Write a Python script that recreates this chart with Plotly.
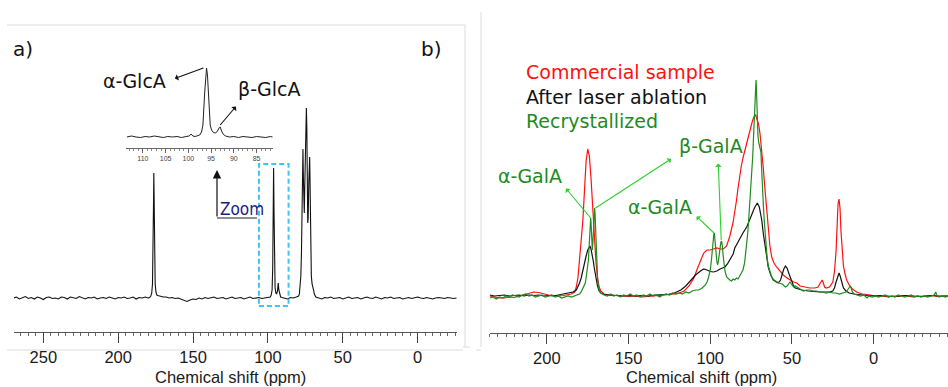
import plotly.graph_objects as go

# ---------------- Panel a : glucuronic acid, full 13C spectrum ----------------
a_ppm = [270, 268, 266, 264, 262, 260, 258, 256, 254, 252, 250, 248, 246, 244, 242, 240,
         238, 236, 234, 232, 230, 228, 226, 224, 222, 220, 218, 216, 214, 212, 210, 208,
         206, 204, 202, 200, 198, 196, 194, 192, 190, 188, 186, 184, 182, 180,
         179, 178.2, 177.6, 177.1, 176.7, 176.4, 176.2, 176.0, 175.7, 175.3, 174.8, 174.2,
         173.5, 172.5, 171.5, 170,
         168, 166, 164, 162, 160, 158, 156, 154, 152, 150, 148, 146, 144, 142, 140, 138,
         136, 134, 132, 130, 128, 126, 124, 122, 120, 118, 116, 114, 112, 110, 108, 106,
         104, 102, 100,
         98.5, 97.8, 97.2, 96.8, 96.5, 96.2, 95.9, 95.6, 95.2, 94.7, 94.2, 93.6, 93.1, 92.7,
         92.2, 91.5, 90.5, 89, 87, 85, 83, 81,
         79.5, 79, 78.5, 78, 77.6, 77.2, 76.9, 76.6, 76.3, 76.0, 75.7, 75.4, 75.0, 74.6,
         74.3, 74.0, 73.7, 73.4, 73.1, 72.7, 72.3, 72.1, 71.8, 71.4, 71.0, 70.5, 70.0, 69.5,
         69.0, 68.5, 68,
         66, 64, 62, 60, 58, 56, 54, 52, 50, 48, 46, 44, 42, 40, 38, 36, 34, 32, 30, 28, 26,
         24, 22, 20, 18, 16, 14, 12, 10, 8, 6, 4, 2, 0, -2, -4, -6, -8, -10, -12, -14, -16,
         -18, -20, -22, -24, -26]
a_int = [0, 1, -1, 0, 1.5, -0.5, 0.5, -1, 1, 0, -1.5, 0.5, 1, -0.5, 0, -1,
         1, 0.5, -1, 1, 0, -0.5, 1.5, 0, -1, 0.5, 0, 1, -1, 0, 0.5, -0.5,
         1, 0, -1, 0.5, 0, 1, -0.5, 0, 1, -1, 0.5, 0, 1, 0,
         0.5, 2, 5, 14, 45, 95, 125, 95, 45, 14, 6, 3,
         2.5, 2, 1.5, 1,
         1, 0, 0.5, -0.5, 0, -1, -2, -3.5, -2, -1, -1.5, 0, -1, 0.5, -0.5, 0,
         1, -0.5, 0, 0.5, -1, 0, 1, -0.5, 0, 0.5, -1, 0, 1, -0.5, 0, 0.5,
         -0.5, 0, 0.5,
         1, 3, 8, 30, 85, 130, 85, 30, 10, 5, 4, 7, 15, 8,
         3, 1, 0.5, 0, -1, 0.5, 0, 1,
         2, 4, 10, 22, 45, 85, 125, 149, 120, 92, 85, 110, 150, 180,
         190, 170, 110, 75, 80, 115, 138, 141, 110, 55, 22, 14, 12, 8,
         4, 2, 1,
         0, -1, 0.5, 0, 1, -0.5, 0, 0.5, -1, 0, 1, -0.5, 0, 0.5, -1, 0, 1, 0, -0.5, 1, 0,
         -1, 0.5, 0, 1, -0.5, 0, 0.5, -1, 0, 0.5, -0.5, 0, 1, 0, -0.5, 0.5, 0, -1, 0, 0.5, 0,
         -0.5, 0.5, 0, -0.5, 0]

# inset: expanded anomeric region
inset_ppm = [113.5, 112.5, 111.5, 110.5, 109.5, 108.5, 107.5, 106.5, 105.5, 104.5, 103.5,
             102.5, 101.5, 100.5, 99.8, 99.4, 99.0, 98.5, 98.0, 97.5, 97.1, 96.8, 96.4,
             96.2, 96.0, 95.8, 95.6, 95.4, 95.2, 94.9, 94.5, 94.0, 93.6, 93.2, 93.0, 92.7,
             92.3, 91.8, 91, 90, 89, 88, 87, 86, 85, 84, 83, 82, 81.5]
inset_int = [0, 1, 0, -0.5, 0.5, 0, 1, 0, -0.5, 0.5, 0,
             0.5, -0.5, 0.5, 1, 3, 1, 0.5, 1, 2, 5, 12, 45,
             64, 69, 62, 42, 22, 12, 7, 4.5, 4, 6, 9.5, 10, 6,
             2.5, 1, 0, 0.5, -0.5, 0.5, 0, -0.5, 0.5, 0, -0.5, 0.5, 0]

# ---------------- Panel b : galacturonic acid spectra ----------------
red_ppm = [235, 232, 229, 226, 223, 220, 217, 214, 211, 208, 205, 202, 199, 196, 193, 190,
           187, 185, 183, 182, 181, 180, 179, 178, 177, 176, 175, 174, 173, 172, 171, 170,
           169, 168, 167, 165, 162, 158, 154, 150, 146, 142, 138, 134, 130, 126, 122, 119,
           116, 113, 110, 108, 106, 104, 102, 100, 98, 96, 94, 92, 90, 88, 86, 85, 84, 83,
           82, 81, 80, 79, 78, 77, 76, 75, 74, 73, 72.2, 71.5, 70.5, 69.6, 68.6, 67.6, 66.8,
           65.9, 65.2, 64.5, 63.5, 62.4, 61, 59.4, 57.3, 55.3, 53, 51.2, 49, 47, 45, 42, 39,
           36, 34, 33, 32, 31.5, 31, 30, 29, 27, 25, 24, 23, 22.3, 21.8, 21.2, 20.6, 20,
           19.4, 18.5, 17.5, 16.5, 15, 13, 10.4, 7, 4, 2, 0, -3, -6, -9, -12, -15, -18, -21,
           -24, -27, -30, -33, -36, -39, -42, -45.5]
red_int = [0, -1, -2, -2, -1, -1.5, 0, 1, 3, 4, 3.5, 2, 1, 0.5, 0, 0.5,
           1, 2, 4, 9, 18, 35, 55, 75, 105, 135, 147, 140, 118, 90, 60, 35,
           18, 9, 5, 2, 1, 0.5, 0, -0.5, 0, -1, -0.5, 0, 0.5, 1, 2, 3,
           5, 10, 18, 27, 36, 43, 46, 46, 47, 48, 47, 47, 50, 60, 74, 83, 95, 108,
           120, 130, 138, 145, 150, 156, 163, 170, 176, 180, 181, 178, 172, 163, 148, 129, 112,
           96, 78, 63, 50, 39, 33, 29, 25, 21, 18, 16, 14, 13, 10, 9, 8,
           8, 9, 12, 15, 16, 14, 9, 8, 9, 14, 24, 45, 75, 92, 97, 88, 65,
           45, 30, 22, 16, 11, 7, 4, 2, 1.5, 1, 0, -0.5, 0, -1, 0, -0.5, 0.5, 0,
           -1, 0, -0.5, 0, 0.5, -0.5, 0, 0]

blk_ppm = [235, 232, 229, 226, 223, 220, 217, 214, 211, 208, 205, 202, 199, 196, 193, 190,
           188, 186, 184, 182, 181, 180, 179, 178, 177, 176, 175, 174.2, 173.6, 173, 172,
           171.5, 171, 170, 169, 168, 167, 165, 162, 158, 154, 150, 146, 142, 138, 134, 130,
           126, 122, 118, 115, 112, 109, 106, 104, 102, 100, 98, 96, 94, 92, 91, 89.5, 88,
           86, 85, 83, 81.8, 80, 77.7, 76, 74.7, 73, 71.2, 70, 69, 68.5, 67.5, 66.5, 65.5,
           64.5, 63, 61.4, 59.5, 58.4, 57, 56, 55, 54, 53, 52, 51.2, 50, 49, 48, 46, 44, 40,
           36, 33, 30, 27, 25, 24, 23, 22, 21.2, 20.5, 19.5, 18.5, 17, 15, 12, 8, 4, 0, -4,
           -8, -12, -16, -20, -24, -28, -32, -36, -40, -45.5]
blk_int = [1, 0, 0.5, 1, 0, 0.5, 1, 0, 1, 0.5, 1, 0, 0.5, 0, 1, 1.5,
           2, 3, 4, 6, 9, 13, 18, 26, 33, 40, 46, 49, 50, 47, 40,
           34, 28, 18, 10, 5, 3, 1.5, 1, 0.5, 0, 0.5, 0, 0.5, 0, 1, 1,
           1.5, 3, 6, 10, 16, 21, 25, 27, 26, 24.5, 24, 25, 27, 28, 29, 32, 36,
           42, 48, 54, 59, 63, 69, 75, 81, 88, 93, 89, 82, 76, 62, 49, 37,
           29, 21, 16, 14, 13, 16, 22, 27, 30, 28, 23, 19, 14, 10, 8, 7, 6, 5,
           4, 4, 4, 4, 5, 8, 14, 20, 23, 20, 13, 8, 5, 3, 2, 1, 0.5, 0, 0.5,
           0, -0.5, 0, 0.5, 0, -0.5, 0, 0.5, 0, 0]

grn_ppm = [235, 233, 231, 229, 227, 225, 223, 221, 219, 217, 215, 213, 211, 209, 207, 205,
           203, 201, 199, 197, 195, 193, 191, 189, 187, 185, 183, 181, 180, 179, 178, 177,
           176.5, 176, 175.5, 175, 174.6, 174.2, 173.8, 173.4, 173.2, 173, 172.6, 172.2,
           171.8, 171.4, 171, 170.8, 170.5, 170.2, 169.8, 169.4, 169, 168.4, 167.8, 167,
           166, 165, 163, 161, 159, 157, 155, 153, 151, 149, 147, 145, 143, 141, 139, 137,
           135, 133, 131, 129, 127, 125, 123, 121, 119, 117, 115, 113, 111, 109, 107, 105,
           103, 102, 101, 100, 99.3, 98.8, 98.2, 97.8, 97.5, 97.1, 96.6, 96, 95.5, 95, 94.5,
           94, 93.5, 93.1, 92.6, 92.1, 91.6, 91, 90, 89, 88, 87, 86, 85, 84, 83, 82, 81, 80,
           79, 78.5, 78, 77.5, 77, 76.5, 76, 75.5, 75, 74.5, 74, 73.5, 73, 72.6, 72.2, 72,
           71.8, 71.5, 71.2, 70.8, 70.4, 70, 69.5, 69, 68.6, 68.2, 67.8, 67.3, 66.8, 66.3,
           65.8, 65.2, 64.5, 63.5, 62.4, 61, 59.4, 58, 56, 55, 54, 53, 52, 51.2, 50, 49, 48,
           47, 45, 43, 41, 39, 37, 35, 33, 31, 29, 27, 25, 23, 21, 19, 17, 16, 15, 14.3,
           13.8, 13, 12, 10, 8, 6, 5, 4, 3, 1, -1, -3, -5, -7, -9, -11, -13, -15, -17, -19,
           -21, -23, -25, -27, -29, -31, -33, -35, -37, -38, -38.5, -40, -42, -44, -45.5]
grn_int = [-2, -1, -3, -1, -2, 0, -1, 1, 0, -1, 1, 2, 0, 1, -1, 0,
           1, -1, 0, 1, -1, 0, -2, -1, 0, -1, 0, 1, 2, 4, 7, 10,
           13, 18, 24, 30, 36, 48, 62, 75, 78, 74, 58, 46,
           55, 75, 86, 88, 82, 66, 45, 30, 18, 9, 5, 3,
           2, 1, 0, 2, 0, 1, -1, 1, 0, 2, 0, 1, -1, 1, 0, 2,
           0, 1, -1, 1, 2, 1, 3, 2, 3, 2, 4, 3, 5, 6, 6, 8,
           11, 14, 19, 26, 36, 46, 56, 62, 63, 58, 46, 35, 31, 35, 43,
           50, 54, 55, 50, 40, 33, 25, 19, 17, 16, 15, 17, 16, 18, 17, 20, 22, 26,
           33, 40, 48, 56, 64, 76, 88, 100, 110, 125, 140, 160, 180, 200, 214, 216,
           210, 190, 172, 160, 154, 151, 148, 144, 128, 110, 98, 84, 72, 58,
           47, 38, 30, 24, 19, 16, 14, 13, 12, 10, 9, 10, 13, 14, 11, 9, 10,
           9, 7, 5, 6, 6, 5, 5, 4, 4, 3, 4, 3, 3, 2, 3, 4, 6, 8, 10,
           8, 4, 2, 1, 0, 1, -1, -2, 0, -1, 0, -1, 0, 1, -1, 0, -1, 1, 0, -1,
           0, 1, -1, 0, -1, 0, -1, 0, 1, 4, 1, -1, 0, -1, 0]

a_ticks = [250, 200, 150, 100, 50, 0]
b_ticks = [200, 150, 100, 50, 0]
inset_ticks = [110, 105, 100, 95, 90, 85]

W, H = 948, 387
SANS = "Liberation Sans, Arial, sans-serif"
TICK_FONT = dict(family=SANS, size=16.5, color="#1a1a1a")
LABEL_FONT = "DejaVu Sans, Verdana, sans-serif"
GREEN_TXT = "#1f8a1f"
ARROW_GREEN = "#2ad12a"


def px(x, y):
    """pixel position -> paper coordinates"""
    return x / W, 1 - y / H


fig = go.Figure()
fig.add_trace(go.Scatter(x=a_ppm, y=a_int, mode="lines", line=dict(color="#111111", width=1.1),
                         xaxis="x", yaxis="y", hoverinfo="skip"))
fig.add_trace(go.Scatter(x=inset_ppm, y=inset_int, mode="lines", line=dict(color="#222222", width=1),
                         xaxis="x3", yaxis="y3", hoverinfo="skip"))
fig.add_trace(go.Scatter(x=red_ppm, y=red_int, mode="lines", line=dict(color="#ff1010", width=1.2),
                         xaxis="x2", yaxis="y2", hoverinfo="skip"))
fig.add_trace(go.Scatter(x=blk_ppm, y=blk_int, mode="lines", line=dict(color="#111111", width=1.2),
                         xaxis="x2", yaxis="y2", hoverinfo="skip"))
fig.add_trace(go.Scatter(x=grn_ppm, y=grn_int, mode="lines", line=dict(color="#1e8c1e", width=1.2),
                         xaxis="x2", yaxis="y2", hoverinfo="skip"))


def ppm_axis(domain, rng, ticks, anchor):
    return dict(domain=domain, range=rng, anchor=anchor, showgrid=False, zeroline=False,
                showline=True, linecolor="#555555", linewidth=1,
                tickmode="array", tickvals=ticks, ticks="outside", ticklen=10,
                tickwidth=1.3, tickcolor="#444444", tickfont=TICK_FONT,
                minor=dict(tickmode="linear", tick0=0, dtick=5, ticks="outside",
                           ticklen=3, tickwidth=1, tickcolor="#666666", showgrid=False))


fig.update_layout(
    width=W, height=H, margin=dict(l=0, r=0, t=0, b=0),
    paper_bgcolor="white", plot_bgcolor="white", showlegend=False,
    xaxis=ppm_axis([14 / W, 457 / W], [269.6, -26.3], a_ticks, "y"),
    yaxis=dict(domain=[1 - 332 / H, 1], range=[-34, 298], visible=False),
    xaxis2=ppm_axis([489.7 / W, 1], [235, -45.5], b_ticks, "y2"),
    yaxis2=dict(domain=[1 - 333 / H, 1], range=[-37, 296], visible=False),
    xaxis3=dict(domain=[126 / W, 273 / W], range=[113.7, 81.4], anchor="y3",
                showgrid=False, zeroline=False, showline=True, linecolor="#666666",
                linewidth=1, tickmode="array", tickvals=inset_ticks, ticks="outside",
                ticklen=4, tickwidth=1, tickcolor="#666666",
                tickfont=dict(family=SANS, size=7, color="#444444"),
                minor=dict(tickmode="linear", tick0=0, dtick=1, ticks="outside", ticklen=2,
                           tickcolor="#888888")),
    yaxis3=dict(domain=[1 - 148 / H, 1 - 60 / H], range=[-11, 77], visible=False),
)

shapes = []
# faint frame lines around the two panels
for (x0, y0, x1, y1) in [(7, 25, 465, 25), (465, 25, 465, 347), (7, 350, 463, 350),
                         (463, 347, 470, 347), (481, 12, 481, 347), (476, 350, 481, 350)]:
    a0, b0 = px(x0, y0)
    a1, b1 = px(x1, y1)
    shapes.append(dict(type="line", xref="paper", yref="paper", x0=a0, y0=b0, x1=a1, y1=b1,
                       line=dict(color="#dcdcdc", width=1)))
# dashed box around the expanded region in panel a
shapes.append(dict(type="rect", xref="x", yref="y", x0=106, x1=86.2, y0=-8, y1=134,
                   line=dict(color="#3cc6f2", width=2, dash="5px,3px")))
# "Zoom" pointer elbow
a0, b0 = px(217, 218)
a1, b1 = px(257, 218)
shapes.append(dict(type="line", xref="paper", yref="paper", x0=a0, y0=b0, x1=a1, y1=b1,
                   line=dict(color="#222222", width=1.2)))
fig.update_layout(shapes=shapes)

ann = []


def text(x, y, s, size, color, family=LABEL_FONT, anchor="center", vanchor="middle"):
    xp, yp = px(x, y)
    ann.append(dict(xref="paper", yref="paper", x=xp, y=yp, text=s, showarrow=False,
                    xanchor=anchor, yanchor=vanchor, borderpad=0,
                    font=dict(family=family, size=size, color=color)))


def pointer(xref, yref, x, y, dx, dy, color, width=1.1):
    ann.append(dict(xref=xref, yref=yref, x=x, y=y, ax=dx, ay=dy, text="", showarrow=True,
                    arrowside="start", arrowhead=2, arrowsize=1.3, arrowwidth=width,
                    arrowcolor=color))


# panel letters
text(22.5, 49, "a)", 20, "#111111")
text(431, 49, "b)", 20, "#111111")

# axis titles, sitting on the bottom edge
text(230, 387, "Chemical shift (ppm)", 16.5, "#1a1a1a", family=SANS, vanchor="bottom")
text(701, 387, "Chemical shift (ppm)", 16.5, "#1a1a1a", family=SANS, vanchor="bottom")

# panel a labels
text(134, 81, "α-GlcA", 19, "#111111")
text(268.5, 89, "β-GlcA", 19, "#111111")
pointer("x3", "y3", 96.7, 69, -30, 11, "#111111")
pointer("x3", "y3", 93.0, 12, 17, -20, "#111111")
text(219, 209, "Zoom", 17,  "#1c1c86",
     family="Liberation Sans Narrow, DejaVu Sans Condensed, Arial Narrow, sans-serif", anchor="left")
zx, zy = px(217, 170)
ann.append(dict(xref="paper", yref="paper", x=zx, y=zy, ax=0, ay=48, text="", showarrow=True,
                arrowhead=2, arrowsize=1.4, arrowwidth=1.2, arrowcolor="#111111"))

# panel b legend-like labels
text(525, 72, "Commercial sample", 19, "#ff1010", anchor="left")
text(525, 97, "After laser ablation", 19, "#111111", anchor="left")
text(525, 121, "Recrystallized", 19, GREEN_TXT, anchor="left")

# panel b peak assignments
text(529.5, 176, "α-GalA", 19, GREEN_TXT)
text(711, 146, "β-GalA", 19, GREEN_TXT)
text(660, 207, "α-GalA", 19, GREEN_TXT)
pointer("x2", "y2", 173.2, 78, -26, -31, ARROW_GREEN)
pointer("x2", "y2", 170.2, 88, 77, -50, ARROW_GREEN)
pointer("x2", "y2", 93.3, 56, -3, -78, ARROW_GREEN)
pointer("x2", "y2", 97.7, 63, -19, -18, ARROW_GREEN)

fig.update_layout(annotations=ann)
fig.write_html("out.html")
